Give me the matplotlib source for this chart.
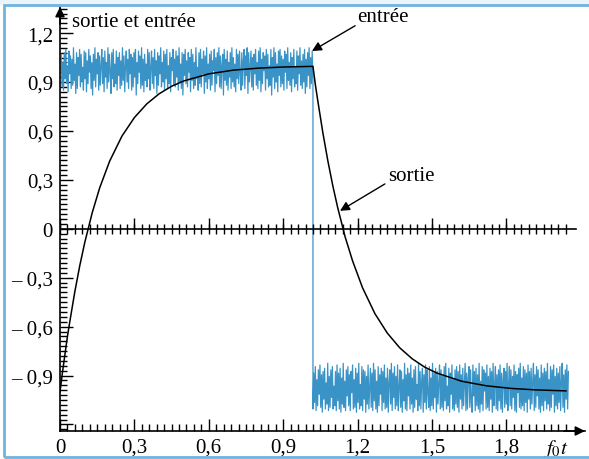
# -*- coding: utf-8 -*-

import numpy as np
import matplotlib
matplotlib.use("Agg")
import matplotlib.pyplot as plt
from matplotlib.patches import Rectangle
from matplotlib.ticker import MultipleLocator, FixedLocator

plt.rcParams["font.family"] = "serif"
plt.rcParams["font.serif"] = ["Liberation Serif", "DejaVu Serif"]
plt.rcParams["mathtext.fontset"] = "stix"

BLUE = "#3a93c6"
FRAME = "#6fb3df"

# input signal (entree): noisy square wave, deviations in hundredths
t_start = 0.005
t_step = 1.02
t_end = 2.05
level_high = 0.98
level_low = -0.985

noise_high = [
    9, -11, 4, -13, 10, -6, 12, -9, 2, -14, 11, -3, 8, -12, 6,
    -10, 13, -7, 3, -15, 10, -12, 7, -4, 12, -11, 9, -8, 1, -13,
    11, -6, 10, -14, 5, -9, 12, -2, 8, -12, 4, -16, 9, -7, 13,
    -11, 6, -3, 10, -13, 8, -10, 2, 12, -9, 7, -14, 11, -5, 4,
    -12, 13, -8, 9, -1, -15, 10, -6, 12, -11, 3, -9, 11, -13, 7,
    -4, 10, -12, 5, -10, 13, -7, 8, -14, 2, 11, -8, 6, -12, 12,
    -3, 9, -13, 7, -11, 10, -5, 12, -16, 4, -9, 11, -2, 8, -12,
    13, -10, 6, -14, 9, -7, 3, -11, 12, -6, 10, -13, 1, 11, -9,
    7, -12, 12, -4, 5, -15, 10, -10, 8, -3, 13, -11, 4, -8, 11,
    -13, 9, -6, 12, -12, 2, -9, 10, -14, 7, -1, 12, -10, 6, -11,
    11, -5, 8, -13, 13, -8, 3, -12, 10, -16, 9, -4, 12, -9, 5,
    -11, 10, -2, 7, -14, 12, -7, 9, -12, 4, -10, 13, -6, 1, -13,
    10, -9, 12, -11, 6, -3, 11, -15, 8, -8, 13, -12, 3, -6, 9,
    -13, 11, -10, 5, -1, 12, -14, 7, -9, 10, -4, 13, -11, 8, -12,
    2, 9, -16, 12, -7, 6, -10, 11, -13, 4, -5, 10, -12, 13, -8,
    7, -11, 3, -14, 12, -6, 9, -9, 11, -2, -13, 10, -10, 5, 12,
    -12, 8, -4, 13, -15, 10, -8, 1, 11, -11, 7, -13, 9, -3, 12,
    -10, 4, -12, 11, -7, 13, -14, 6, -9, 10, -1, 8, -13, 12, -6,
    9, -11, 2, -10, 12, -16, 7, -5, 13, -12, 10, -8, 3, -14, 11,
    -4, 12, -11, 8, -9, 6, -13, 11, -2, 9, -12, 13, -7, 4, -10,
    10, -14, 7, -6, 12, -11, 1, -9, 11, -13, 8, -3, 13, -10, 5,
    -12, 9, -8, 12, -15, 6, -11, 10, -4, 13, -12, 7, -9, 11, -7]

noise_low = [
    -12, 10, -8, 14, -13, 6, -10, 12, -3, 15, -11, 9, -14, 11, -6,
    13, -12, 4, -9, 16, -13, 8, -11, 12, -5, 14, -12, 2, -10, 11,
    -13, 15, -7, 10, -12, 13, -14, 7, -9, 16, -11, 5, -13, 12, -4,
    14, -10, 9, -13, 11, -2, 15, -12, 6, -11, 13, -14, 10, -8, 16,
    -12, 3, -10, 14, -13, 12, -6, 11, -14, 8, -9, 15, -12, 1, 13,
    -11, 10, -13, 16, -7, 12, -12, 5, -14, 14, -10, 9, -3, 13, -13,
    11, -8, 15, -12, 7, -11, 13, -14, 4, 12, -9, 16, -13, 10, -5,
    14, -12, 8, -10, 15, -13, 2, 12, -11, 11, -14, 6, -7, 16, -12,
    9, -13, 13, -4, 10, -12, 15, -9, 7, -14, 12, -11, 14, -6, 3,
    -13, 16, -10, 11, -12, 5, 13, -14, 9, -8, 15, -12, 12, -2, -11,
    14, -13, 7, -10, 16, -12, 10, -5, 13, -14, 11, -9, 4, 15, -12,
    12, -11, 8, -13, 14, -7, 16, -12, 2, -10, 13, -14, 10, -3, 15,
    -12, 6, -13, 12, -9, 14, -11, 11, -14, 15, -6, 9, -12, 13, -10,
    4, 16, -13, 10, -12, 7, 14, -11, 12, -8, -14, 15, -4, 11, -13,
    13, -10, 9, -12, 16, -14, 5, -9, 14, -13, 12, -1, 10, -12, 15,
    -11, 8, -13, 13, -6, 11, -14, 16, -10, 3, 14, -12, 9, -13, 12,
    -7, 15, -12, 10, -14, 6, 13, -11, 11, -9, 16, -13, 4, 14, -10,
    12, -12, 8, -5, 15, -13, 11, -14, 9, -2, 13, -11, 16, -12, 7,
    -10, 14, -13, 12, -8, 10, -14, 15, -6, 11, -12, 13, -9, 5, 16,
    -13, 9, -11, 14, -4, 12, -12, 7, -14, 15, -10, 10, -13, 13, -7,
    11, -12, 16, -9, 6, -13, 14, -11, 12, -3, 15, -14, 8, -10, 13,
    -12, 10, -8, 14, -13, 5, 16, -11, 9, -14, 12, -6, 15, -12, 11]

# output signal (sortie)
sortie_t = [0.0, 0.01, 0.02, 0.03, 0.04, 0.06, 0.08, 0.10, 0.13, 0.16, 0.20, 0.25, 0.30,
            0.35, 0.40, 0.45, 0.50, 0.60, 0.70, 0.80, 0.90, 1.02,
            1.03, 1.04, 1.06, 1.08, 1.10, 1.12, 1.15, 1.18, 1.22, 1.27, 1.32, 1.37,
            1.42, 1.47, 1.52, 1.62, 1.72, 1.82, 1.92, 2.04]
sortie_y = [-1.0, -0.88, -0.77, -0.66, -0.565, -0.384, -0.224, -0.083, 0.099, 0.251,
            0.414, 0.569, 0.682, 0.766, 0.828, 0.874, 0.907, 0.950, 0.973, 0.985, 0.992,
            0.996,
            0.88, 0.78, 0.588, 0.417, 0.264, 0.128, -0.051, -0.198, -0.362, -0.521,
            -0.640, -0.730, -0.797, -0.848, -0.885, -0.935, -0.963, -0.979, -0.988, -0.994]

x_major = [0.0, 0.3, 0.6, 0.9, 1.2, 1.5, 1.8]
x_labels = ["0", "0,3", "0,6", "0,9", "1,2", "1,5", "1,8"]
y_major = [-1.2, -0.9, -0.6, -0.3, 0.0, 0.3, 0.6, 0.9, 1.2]
y_labels = ["", "\u2013 0,9", "\u2013 0,6", "\u2013 0,3", "0", "0,3", "0,6", "0,9", "1,2"]

fig = plt.figure(figsize=(5.89, 4.60), dpi=100)

# light frame around the figure
fig.patches.append(Rectangle((0, 454 / 460), 1, 6 / 460, transform=fig.transFigure,
                             facecolor="#eaf4fb", edgecolor="none", zorder=0))
fig.patches.append(Rectangle((4 / 589, 2 / 460), 620 / 589, 452 / 460,
                             transform=fig.transFigure, fill=False,
                             edgecolor=FRAME, lw=2.0, zorder=1))

ax = fig.add_axes([60 / 589, 28 / 460, 525 / 589, 424 / 460])
ax.set_xlim(0, 525 / 248)
ax.set_ylim(-1.24, 1.36)
ax.patch.set_alpha(0)

# input signal
hi = level_high + np.array(noise_high) / 100.0
lo = level_low + np.array(noise_low) / 100.0
t_hi = np.linspace(t_start, t_step, len(hi))
t_lo = np.linspace(t_step, t_end, len(lo))
ax.plot(np.concatenate([t_hi, t_lo]), np.concatenate([hi, lo]),
        color=BLUE, lw=0.9, zorder=2)

# output signal
ax.plot(sortie_t, sortie_y, color="black", lw=1.1, zorder=3)

# spines and ticks
for s in ["top", "right"]:
    ax.spines[s].set_visible(False)
for s in ["left", "bottom"]:
    ax.spines[s].set_linewidth(1.2)

ax.xaxis.set_major_locator(FixedLocator(x_major))
ax.set_xticklabels(x_labels)
ax.xaxis.set_minor_locator(FixedLocator(np.arange(0, 69) * 0.03))
ax.yaxis.set_major_locator(FixedLocator(y_major))
ax.set_yticklabels(y_labels)
ax.yaxis.set_minor_locator(MultipleLocator(0.03))
ax.tick_params(which="major", direction="in", length=9, width=1.0, labelsize=15, pad=5)
ax.tick_params(which="minor", direction="in", length=5, width=1.0)

# axis arrows
ax.annotate("", xy=(0, 1.0), xytext=(0, 0.96), xycoords="axes fraction",
            arrowprops=dict(arrowstyle="-|>", color="black", lw=1.2,
                            mutation_scale=14, shrinkA=0, shrinkB=0))
ax.annotate("", xy=(1.0, 0), xytext=(0.96, 0), xycoords="axes fraction",
            arrowprops=dict(arrowstyle="-|>", color="black", lw=1.2,
                            mutation_scale=14, shrinkA=0, shrinkB=0))

# zero line with its ticks
ax.plot([0, 2.08], [0, 0], color="black", lw=1.2, zorder=2)
zero_minor = np.arange(0, 69) * 0.03
ax.plot(zero_minor, np.zeros(len(zero_minor)), ls="none", marker="|",
        markersize=7, markeredgewidth=1.0, color="black", zorder=2)
ax.plot(x_major, np.zeros(len(x_major)), ls="none", marker=2,
        markersize=8, markeredgewidth=1.0, color="black", zorder=2)

ax.text(2.0, -0.015, "$f_0t$", transform=ax.get_xaxis_transform(),
        ha="center", va="top", fontsize=15)

# labels and arrows
ax.text(0.05, 1.27, "sortie et entr\u00e9e", ha="left", va="center", fontsize=15)
ax.text(1.198, 1.30, "entr\u00e9e", ha="left", va="center", fontsize=15)
ax.annotate("", xy=(1.016, 1.09), xytext=(1.19, 1.245),
            arrowprops=dict(arrowstyle="-|>", color="black", lw=1.0,
                            mutation_scale=14, shrinkA=0, shrinkB=0))
ax.text(1.323, 0.325, "sortie", ha="left", va="center", fontsize=15)
ax.annotate("", xy=(1.129, 0.11), xytext=(1.31, 0.275),
            arrowprops=dict(arrowstyle="-|>", color="black", lw=1.0,
                            mutation_scale=14, shrinkA=0, shrinkB=0))

fig.savefig("out.png", dpi=100)
